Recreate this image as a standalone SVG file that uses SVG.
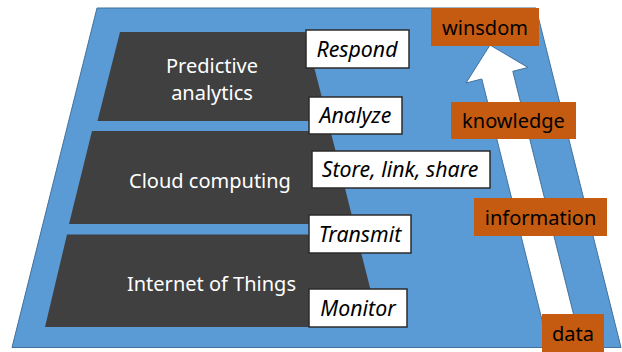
<svg xmlns="http://www.w3.org/2000/svg" width="622" height="352" viewBox="0 0 622 352">
  <style>
    .frame { fill: #5B9BD5; stroke: #41719C; stroke-width: 1; }
    .layer { fill: #404040; }
    .layer-text { fill: #FFFFFF; font-family: "Noto Sans", "Open Sans", sans-serif; font-size: 20px; text-anchor: middle; }
    .step { fill: #FFFFFF; stroke: #2B2B2B; stroke-width: 1.5; }
    .step-text { fill: #000000; font-family: "Noto Sans", "Open Sans", sans-serif; font-size: 21.3px; font-style: italic; text-anchor: middle; }
    .level { fill: #C55A11; }
    .level-text { fill: #000000; font-family: "Noto Sans", "Open Sans", sans-serif; font-size: 20px; text-anchor: middle; }
    .arrow { fill: #FFFFFF; stroke: #41719C; stroke-width: 1; }
  </style>

  <!-- background frame -->
  <g id="frame">
    <polygon class="frame" points="97,8 536,8 621,347.5 12,347.5"/>
  </g>

  <!-- technology layers -->
  <g id="layer-predictive">
    <polygon class="layer" points="120,32 305,32 328,121 97.5,121"/>
    <text class="layer-text" x="212" y="73">Predictive</text>
    <text class="layer-text" x="212" y="100">analytics</text>
  </g>
  <g id="layer-cloud">
    <polygon class="layer" points="92,131 330.5,131 354,224 69,224"/>
    <text class="layer-text" x="210" y="188">Cloud computing</text>
  </g>
  <g id="layer-iot">
    <polygon class="layer" points="67,234.5 356.5,234.5 380,327 45,327"/>
    <text class="layer-text" x="211.5" y="291">Internet of Things</text>
  </g>

  <!-- upward arrow from data to wisdom -->
  <g id="connectors">
    <polygon class="arrow" points="490,45 528,67.5 512.8,71.3 581.5,346 548.5,346 481.8,79 466,83"/>
  </g>

  <!-- action steps -->
  <g id="step-respond">
    <rect class="step" x="306" y="30" width="103" height="38"/>
    <text class="step-text" x="357" y="57">Respond</text>
  </g>
  <g id="step-analyze">
    <rect class="step" x="309" y="97" width="93" height="37"/>
    <text class="step-text" x="355.5" y="123">Analyze</text>
  </g>
  <g id="step-store">
    <rect class="step" x="312" y="151" width="178" height="37"/>
    <text class="step-text" x="400" y="177">Store, link, share</text>
  </g>
  <g id="step-transmit">
    <rect class="step" x="309" y="215" width="102" height="38"/>
    <text class="step-text" x="360" y="242">Transmit</text>
  </g>
  <g id="step-monitor">
    <rect class="step" x="309" y="289" width="98" height="38"/>
    <text class="step-text" x="358" y="316">Monitor</text>
  </g>

  <!-- knowledge hierarchy levels -->
  <g id="level-wisdom">
    <rect class="level" x="431" y="8" width="108" height="38"/>
    <text class="level-text" x="485" y="35">winsdom</text>
  </g>
  <g id="level-knowledge">
    <rect class="level" x="451" y="102" width="125" height="37"/>
    <text class="level-text" x="513.5" y="128">knowledge</text>
  </g>
  <g id="level-information">
    <rect class="level" x="474" y="198" width="133" height="38"/>
    <text class="level-text" x="540.5" y="225">information</text>
  </g>
  <g id="level-data">
    <rect class="level" x="542" y="314" width="62" height="38"/>
    <text class="level-text" x="573" y="341">data</text>
  </g>
</svg>
